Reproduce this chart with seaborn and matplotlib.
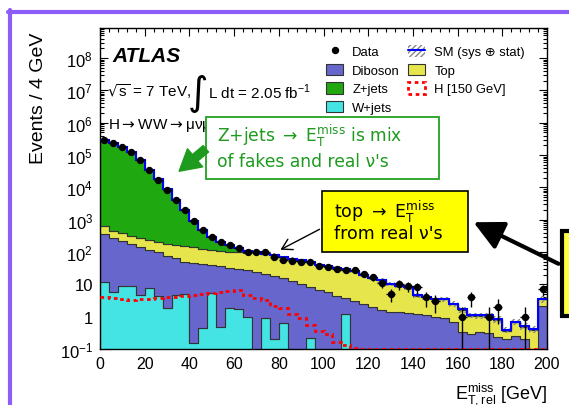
import numpy as np
import pandas as pd
import seaborn as sns
import matplotlib.pyplot as plt
from matplotlib.patches import Rectangle, Patch, FancyArrowPatch
from matplotlib.lines import Line2D
from matplotlib.ticker import FixedLocator, FixedFormatter, MultipleLocator, LogLocator, NullFormatter

W, H = 569, 406

# 4 GeV bins from 0 to 200 (last bin holds the overflow)
bin_edges = np.arange(0, 201, 4)
bin_centers = bin_edges[:-1] + 2

data_counts = [300000, 240000, 178000, 123000, 68000, 35000, 17400, 8500, 4200, 2000,
               930, 490, 290, 200, 166, 132, 98, 102, 98, 72,
               58, 52, 50, 48, 38, 35, 29, 28, 28, 21,
               17, 11, 5, 10, 9, 8, 4, 3, 0, 0,
               1, 4, 0, 1, 2, 0, 0, 1, 0, 7]

zjets = [300000, 240000, 178000, 123000, 68000, 35000, 17400, 8500, 4000, 1850,
         790, 364, 173, 88, 62, 33, 12, 7, 4, 2.5,
         1.8, 1.3, 1.0, 0.8, 0.6, 0.5, 0.4, 0.35, 0.3, 0.25,
         0.2, 0.15, 0.12, 0.1, 0.1, 0.08, 0.06, 0.05, 0.05, 0.04,
         0.04, 0.03, 0.03, 0.03, 0.02, 0.02, 0.02, 0.02, 0.02, 0.1]

top = [276, 194, 156, 138, 122, 114, 102, 104, 101, 101,
       92, 84, 78, 74, 69, 68, 66, 67, 64, 61,
       52, 49, 44, 40, 33, 30, 27, 25, 23, 17,
       13.8, 11.6, 8.8, 7.7, 6.6, 3.3, 2.9, 2.4, 2.5, 1.8,
       1.3, 0.77, 0.74, 0.75, 0.57, 0.17, 0.43, 0.29, 0.40, 1.2]

diboson = [344, 257, 215, 169, 136, 107, 94, 76, 60, 45,
           46, 41, 33, 36, 31, 28, 26, 24, 20.5, 18.4,
           15.2, 12.6, 10.0, 8.1, 6.9, 5.6, 4.5, 2.5, 3.0, 2.5,
           2.0, 1.6, 1.4, 1.4, 1.3, 1.2, 1.1, 1.0, 0.9, 0.68,
           0.33, 0.30, 0.33, 0.32, 0.24, 0.20, 0.25, 0.20, 0.0, 2.2]

wjets = [11.5, 5.6, 9.1, 9.1, 4.7, 7.6, 4.3, 1.8, 4.7, 5.0,
         0.15, 0.44, 5.5, 0.47, 1.9, 1.7, 1.0, 0, 0.9, 0.2,
         0.65, 0, 0, 0.22, 0, 0, 0, 1.2, 0, 0,
         0, 0, 0, 0, 0, 0, 0, 0, 0, 0,
         0, 0, 0, 0, 0, 0, 0, 0, 0, 0]

higgs150 = [4.0, 3.8, 3.5, 3.3, 3.5, 3.5, 3.7, 4.0, 4.2, 4.5,
            4.8, 5.2, 5.5, 5.9, 6.3, 6.5, 4.8, 3.8, 3.3, 2.1,
            1.8, 1.2, 0.9, 0.55, 0.35, 0.30, 0.16, 0.13, 0.105, 0.1,
            0.1, 0.1, 0.1, 0.1, 0.1, 0.1, 0.1, 0.1, 0.1, 0.1,
            0.1, 0.1, 0.1, 0.1, 0.1, 0.1, 0.1, 0.1, 0.1, 0.1]

# relative SM uncertainty (sys + stat)
sm_rel_unc = [0.04, 0.04, 0.04, 0.04, 0.05, 0.05, 0.05, 0.06, 0.06, 0.07,
              0.07, 0.08, 0.08, 0.08, 0.09, 0.09, 0.09, 0.10, 0.10, 0.10,
              0.11, 0.11, 0.11, 0.12, 0.12, 0.12, 0.13, 0.13, 0.14, 0.14,
              0.15, 0.15, 0.16, 0.16, 0.17, 0.17, 0.18, 0.18, 0.19, 0.19,
              0.20, 0.20, 0.21, 0.21, 0.22, 0.22, 0.23, 0.23, 0.24, 0.24]

processes = ["Z+jets", "Top", "Diboson", "W+jets"]  # seaborn stacks last level at bottom
colors = {"Z+jets": "#1fa80f", "Top": "#e6e64c", "Diboson": "#6666cc", "W+jets": "#44e4e4"}

mc = pd.DataFrame({"x": bin_centers, "Z+jets": zjets, "Top": top,
                   "Diboson": diboson, "W+jets": wjets})
mc_long = mc.melt(id_vars="x", var_name="process", value_name="events")

sns.set_style("ticks")
plt.rcParams["font.family"] = ["Liberation Sans", "DejaVu Sans"]
plt.rcParams["axes.linewidth"] = 1.0
for key in ["text.color", "axes.labelcolor", "axes.edgecolor", "xtick.color", "ytick.color"]:
    plt.rcParams[key] = "black"


def fxy(px, py):
    return px / W, 1 - py / H


fig = plt.figure(figsize=(W / 100, H / 100), dpi=100)
ax = fig.add_axes([100 / W, 1 - 350 / H, 447 / W, 321 / H])

sns.histplot(data=mc_long, x="x", weights="events", hue="process", hue_order=processes,
             bins=bin_edges.tolist(), multiple="stack", element="step", palette=colors,
             edgecolor="#333333", linewidth=0.8, alpha=1, legend=False, ax=ax)
ax.set_yscale("log")

total = np.array(zjets) + np.array(top) + np.array(diboson) + np.array(wjets)
unc = np.array(sm_rel_unc)
ax.stairs(total * (1 + unc), bin_edges, baseline=total * (1 - unc), fill=True,
          facecolor="none", edgecolor="#888888", hatch="//////", linewidth=0, zorder=3)
ax.stairs(total, bin_edges, baseline=None, color="blue", linewidth=1.5, zorder=4)
ax.stairs(higgs150, bin_edges, baseline=None, color="red", linestyle=(0, (1.3, 1.3)),
          linewidth=2, zorder=5)

counts = np.array(data_counts, dtype=float)
has = counts > 0
err_up = np.sqrt(counts[has])
err_lo = np.minimum(err_up, counts[has] * 0.999)
ax.errorbar(bin_centers[has], counts[has], yerr=[err_lo, err_up], xerr=2, fmt="o",
            color="black", ms=4.3, elinewidth=1, capsize=0, zorder=10)

ax.set_xlim(0, 200)
ax.set_ylim(0.1, 10 ** 8.93)
ax.xaxis.set_major_locator(MultipleLocator(20))
ax.xaxis.set_minor_locator(MultipleLocator(4))
decades = [10.0 ** k for k in range(-1, 9)]
ylabels = [r"$\mathdefault{10^{-1}}$", "1", "10"] + [r"$\mathdefault{10^{%d}}$" % k for k in range(2, 9)]
ax.yaxis.set_major_locator(FixedLocator(decades))
ax.yaxis.set_major_formatter(FixedFormatter(ylabels))
ax.yaxis.set_minor_locator(LogLocator(base=10, subs=np.arange(2, 10), numticks=100))
ax.yaxis.set_minor_formatter(NullFormatter())
ax.tick_params(which="both", direction="in", top=True, right=True, width=0.8)
ax.tick_params(axis="x", labelsize=11.5)
ax.tick_params(axis="y", labelsize=12)
ax.tick_params(which="major", length=6, pad=5)
ax.tick_params(which="minor", length=3)

ax.set_xlabel(r"$\mathdefault{E^{miss}_{T,rel}}$ [GeV]", fontsize=13, ha="right")
ax.xaxis.set_label_coords(1.0, -0.097)
ax.set_ylabel("Events / 4 GeV", fontsize=14, ha="right")
ax.yaxis.set_label_coords(-0.118, 0.99)

# labels inside the frame
fig.text(*fxy(112, 56), "ATLAS", fontsize=15, weight="bold", style="italic", va="center")
fig.text(*fxy(107, 92), r"$\sqrt{\mathdefault{s}}$ = 7 TeV,", fontsize=11, va="center")
fig.text(*fxy(187, 94), r"$\int$", fontsize=20, va="center")
fig.text(*fxy(208, 92), r"L dt = 2.05 fb$^{\mathdefault{-1}}$", fontsize=11, va="center")
fig.text(*fxy(108, 125), r"H$\rightarrow$WW$\rightarrow$" + "\u03bc\u03bd\u03bc\u03bd",
         fontsize=11, va="center")

handles = [
    Line2D([], [], color="black", marker="o", ms=4.3, linestyle="none"),
    Patch(facecolor=colors["Diboson"], edgecolor="#333333", lw=0.8),
    Patch(facecolor=colors["Z+jets"], edgecolor="#333333", lw=0.8),
    Patch(facecolor=colors["W+jets"], edgecolor="#333333", lw=0.8),
    (Patch(facecolor="none", edgecolor="#888888", hatch="//////", lw=0),
     Line2D([], [], color="blue", lw=1.5)),
    Patch(facecolor=colors["Top"], edgecolor="#333333", lw=0.8),
    Patch(facecolor="none", edgecolor="red", linestyle=(0, (1.3, 1.3)), lw=2),
]
labels = ["Data", "Diboson", "Z+jets", "W+jets", "SM (sys \u2295 stat)", "Top", "H [150 GeV]"]
fig.legend(handles, labels, ncol=2, loc="upper left", bbox_to_anchor=fxy(326, 46),
           frameon=False, fontsize=9.4, handlelength=1.32, handleheight=1.0,
           handletextpad=0.7, columnspacing=0.6, labelspacing=0.4,
           borderpad=0, borderaxespad=0)

# annotation boxes and arrows on top of the plot
green_txt = "#1e9a1e"
fig.add_artist(Rectangle(fxy(206, 180), 233 / W, 62 / H, transform=fig.transFigure,
                         facecolor="white", edgecolor="#22a022", lw=1.3, zorder=20))
fig.text(*fxy(217, 136), r"Z+jets $\rightarrow$ $\mathdefault{E_T^{miss}}$ is mix",
         fontsize=12.3, color=green_txt, va="center", family="DejaVu Sans", zorder=21)
fig.text(*fxy(217, 162), "of fakes and real \u03bd's", fontsize=12.3, color=green_txt,
         va="center", family="DejaVu Sans", zorder=21)
fig.add_artist(FancyArrowPatch(fxy(208, 148), fxy(177, 174), transform=fig.transFigure,
                               arrowstyle="simple,head_width=1.7,head_length=1.5,tail_width=0.6",
                               mutation_scale=10, color="#1e9a1e", zorder=21))

fig.add_artist(Rectangle(fxy(322, 253), 146 / W, 61 / H, transform=fig.transFigure,
                         facecolor="#ffff00", edgecolor="black", lw=1.2, zorder=20))
fig.text(*fxy(334, 212), r"top $\rightarrow$ $\mathdefault{E_T^{miss}}$", fontsize=12.5,
         va="center", family="DejaVu Sans", zorder=21)
fig.text(*fxy(334, 234), "from real \u03bd's", fontsize=12.5, va="center",
         family="DejaVu Sans", zorder=21)
fig.add_artist(FancyArrowPatch(fxy(322, 229), fxy(278, 252), transform=fig.transFigure,
                               arrowstyle="->,head_width=0.35,head_length=0.6",
                               mutation_scale=12, color="black", lw=1.0, zorder=21))

fig.add_artist(Rectangle(fxy(562, 317), 60 / W, 85 / H, transform=fig.transFigure,
                         facecolor="#ffff40", edgecolor="black", lw=3, zorder=20))
fig.add_artist(FancyArrowPatch(fxy(561, 266), fxy(471, 222), transform=fig.transFigure,
                               arrowstyle="-|>,head_width=0.45,head_length=0.9",
                               mutation_scale=20, color="black", lw=3, zorder=21))

# slide frame
frame_c = "#8c5ef7"
fig.add_artist(Line2D([10 / W, 10 / W], [0, 1 - 11 / H], color=frame_c, lw=3,
                      transform=fig.transFigure))
fig.add_artist(Line2D([8 / W, 1], [1 - 13 / H, 1 - 13 / H], color=frame_c, lw=3,
                      transform=fig.transFigure))

fig.savefig("out.png", dpi=100)
